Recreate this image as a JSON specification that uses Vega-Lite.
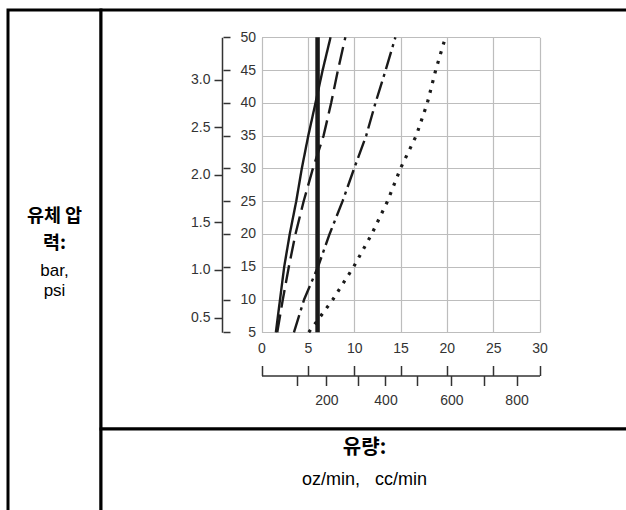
{
  "$schema": "https://vega.github.io/schema/vega-lite/v6.json",
  "autosize": {"type": "pad"},
  "padding": {"left": 6, "top": 8, "right": 0, "bottom": 0},
  "background": "white",
  "bounds": "flush",
  "spacing": 0,
  "datasets": {
    "curves": [
      {"series": "s1", "oz": 1.55, "psi": 5},
      {"series": "s1", "oz": 2.0, "psi": 10},
      {"series": "s1", "oz": 2.45, "psi": 15},
      {"series": "s1", "oz": 3.05, "psi": 20},
      {"series": "s1", "oz": 3.75, "psi": 25},
      {"series": "s1", "oz": 4.35, "psi": 30},
      {"series": "s1", "oz": 5.05, "psi": 35},
      {"series": "s1", "oz": 5.83, "psi": 40},
      {"series": "s1", "oz": 6.6, "psi": 45},
      {"series": "s1", "oz": 7.45, "psi": 50},
      {"series": "s2", "oz": 1.7, "psi": 5},
      {"series": "s2", "oz": 2.3, "psi": 10},
      {"series": "s2", "oz": 2.95, "psi": 15},
      {"series": "s2", "oz": 3.67, "psi": 20},
      {"series": "s2", "oz": 4.55, "psi": 25},
      {"series": "s2", "oz": 5.55, "psi": 30},
      {"series": "s2", "oz": 6.7, "psi": 35},
      {"series": "s2", "oz": 7.52, "psi": 40},
      {"series": "s2", "oz": 8.25, "psi": 45},
      {"series": "s2", "oz": 9.05, "psi": 50},
      {"series": "s3", "oz": 3.5, "psi": 5},
      {"series": "s3", "oz": 4.6, "psi": 10},
      {"series": "s3", "oz": 6.1, "psi": 15},
      {"series": "s3", "oz": 7.35, "psi": 20},
      {"series": "s3", "oz": 8.75, "psi": 25},
      {"series": "s3", "oz": 10.0, "psi": 30},
      {"series": "s3", "oz": 11.3, "psi": 35},
      {"series": "s3", "oz": 12.3, "psi": 40},
      {"series": "s3", "oz": 13.4, "psi": 45},
      {"series": "s3", "oz": 14.45, "psi": 50},
      {"series": "s4", "oz": 5.1, "psi": 5},
      {"series": "s4", "oz": 7.7, "psi": 10},
      {"series": "s4", "oz": 9.95, "psi": 15},
      {"series": "s4", "oz": 11.9, "psi": 20},
      {"series": "s4", "oz": 13.6, "psi": 25},
      {"series": "s4", "oz": 15.0, "psi": 30},
      {"series": "s4", "oz": 16.7, "psi": 35},
      {"series": "s4", "oz": 17.9, "psi": 40},
      {"series": "s4", "oz": 18.8, "psi": 45},
      {"series": "s4", "oz": 19.85, "psi": 50},
      {"series": "s5", "oz": 6.05, "psi": 5},
      {"series": "s5", "oz": 6.05, "psi": 50}
    ]
  },
  "hconcat": [
    {
      "width": 93,
      "height": 519,
      "view": {"stroke": "#000000", "strokeWidth": 3, "fill": "white"},
      "data": {"values": [{}]},
      "layer": [
        {
          "mark": {"type": "text", "text": ["유체 압", "력:"], "font": "Noto Sans CJK KR", "fontWeight": "bold", "fontSize": 18.5, "lineHeight": 27, "baseline": "middle", "align": "center", "dy": -54, "color": "#000000"},
          "encoding": {}
        },
        {
          "mark": {"type": "text", "text": ["bar,", "psi"], "font": "Liberation Sans", "fontSize": 17, "lineHeight": 20, "baseline": "middle", "align": "center", "dy": 1, "color": "#000000"},
          "encoding": {}
        }
      ]
    },
    {
      "spacing": 0,
      "bounds": "flush",
      "vconcat": [
        {
          "width": 527,
          "height": 419,
          "view": {"stroke": "#000000", "strokeWidth": 3, "fill": "white"},
          "data": {"name": "curves"},
          "resolve": {"axis": {"x": "independent", "y": "independent"}},
          "layer": [
            {
              "mark": {"type": "line", "stroke": "#1a1a1a", "strokeCap": "butt"},
              "encoding": {
                "x": {"field": "oz", "type": "quantitative",
                  "scale": {"domain": [0, 30], "range": [160.5, 438.5], "nice": false, "zero": false},
                  "axis": {"orient": "top", "title": null, "grid": true, "labels": false, "ticks": false, "domain": false, "values": [0, 5, 10, 15, 20, 25, 30]}},
                "y": {"field": "psi", "type": "quantitative",
                  "scale": {"domain": [5, 50], "range": [322.3, 27.3], "nice": false, "zero": false},
                  "axis": {"orient": "left", "title": null, "offset": -160.5, "grid": true, "labels": true, "ticks": false, "domain": false, "labelPadding": 6, "values": [5, 10, 15, 20, 25, 30, 35, 40, 45, 50], "format": "d"}},
                "detail": {"field": "series", "type": "nominal"},
                "order": {"field": "psi", "type": "quantitative"},
                "strokeDash": {"field": "series", "type": "nominal", "legend": null,
                  "scale": {"domain": ["s1", "s2", "s3", "s4", "s5"], "range": [[1, 0], [18, 7], [18, 5, 3, 5], [3, 7], [1, 0]]}},
                "strokeWidth": {"field": "series", "type": "nominal", "legend": null,
                  "scale": {"type": "ordinal", "domain": ["s1", "s2", "s3", "s4", "s5"], "range": [2.4, 2.4, 2.4, 3.2, 4.5]}}
              }
            },
            {
              "mark": {"type": "point", "opacity": 0},
              "encoding": {
                "x": {"field": "oz", "type": "quantitative",
                  "scale": {"domain": [0, 30], "range": [160.5, 438.5], "nice": false, "zero": false},
                  "axis": {"orient": "bottom", "title": null, "offset": -96.7, "grid": false, "labels": true, "ticks": false, "domain": false, "labelPadding": 9, "values": [0, 5, 10, 15, 20, 25, 30], "format": "d"}},
                "y": {"field": "psi", "type": "quantitative",
                  "scale": {"domain": [5, 50], "range": [322.3, 27.3], "nice": false, "zero": false},
                  "axis": {"orient": "left", "title": null, "offset": -129, "grid": false, "labels": false, "ticks": true, "tickSize": 7, "domain": false, "values": [5, 10, 15, 20, 25, 30, 35, 40, 45, 50]}}
              }
            },
            {
              "mark": {"type": "point", "opacity": 0},
              "encoding": {
                "x": {"field": "oz", "type": "quantitative",
                  "scale": {"domain": [0, 30], "range": [160.5, 438.5], "nice": false, "zero": false},
                  "axis": {"orient": "bottom", "title": null, "offset": -53.5, "grid": false, "labels": false, "ticks": true, "tickSize": -10, "domain": true, "values": [0, 5, 10, 15, 20, 25, 30]}},
                "y": {"field": "psi", "type": "quantitative",
                  "scale": {"domain": [5, 50], "range": [322.3, 27.3], "nice": false, "zero": false},
                  "axis": {"orient": "left", "title": null, "offset": -121, "grid": false, "labels": true, "ticks": true, "tickSize": 8, "domain": true, "labelPadding": 4,
                    "values": [7.2519, 14.5038, 21.7557, 29.0076, 36.2595, 43.5114],
                    "labelExpr": "format(datum.value / 14.5038, '.1f')"}}
              }
            },
            {
              "mark": {"type": "point", "opacity": 0},
              "encoding": {
                "x": {"field": "oz", "type": "quantitative",
                  "scale": {"domain": [0, 30], "range": [160.5, 438.5], "nice": false, "zero": false},
                  "axis": {"orient": "bottom", "title": null, "offset": -53.5, "grid": false, "labels": true, "ticks": true, "tickSize": 10, "domain": false, "labelPadding": 8,
                    "values": [3.78, 7.01, 10.36, 13.38, 16.83, 20.5, 24.06, 27.52],
                    "labelExpr": "round(datum.value * 29.5735 / 100) % 2 == 0 ? format(round(datum.value * 29.5735 / 100) * 100, 'd') : ''"}},
                "y": {"field": "psi", "type": "quantitative",
                  "scale": {"domain": [5, 50], "range": [322.3, 27.3], "nice": false, "zero": false},
                  "axis": null}
              }
            }
          ]
        },
        {
          "width": 527,
          "height": 100,
          "view": {"stroke": "#000000", "strokeWidth": 3, "fill": "white"},
          "data": {"values": [{}]},
          "layer": [
            {
              "mark": {"type": "text", "text": "유량:", "font": "Noto Sans CJK KR", "fontWeight": "bold", "fontSize": 20, "baseline": "middle", "align": "center", "dy": -31, "color": "#000000"},
              "encoding": {}
            },
            {
              "mark": {"type": "text", "text": "oz/min,\u00a0\u00a0 cc/min", "font": "Liberation Sans", "fontSize": 18, "baseline": "middle", "align": "center", "dy": 1, "color": "#000000"},
              "encoding": {}
            }
          ]
        }
      ]
    }
  ],
  "config": {
    "concat": {"spacing": 0},
    "axis": {
      "labelFont": "Liberation Sans",
      "labelFontSize": 14,
      "labelColor": "#333333",
      "domainColor": "#333333",
      "tickColor": "#333333",
      "domainWidth": 1.5,
      "tickWidth": 1.5,
      "gridColor": "#bdbdbd",
      "gridWidth": 1.2,
      "labelFlush": false,
      "labelOverlap": false,
      "labelBound": false
    }
  }
}
